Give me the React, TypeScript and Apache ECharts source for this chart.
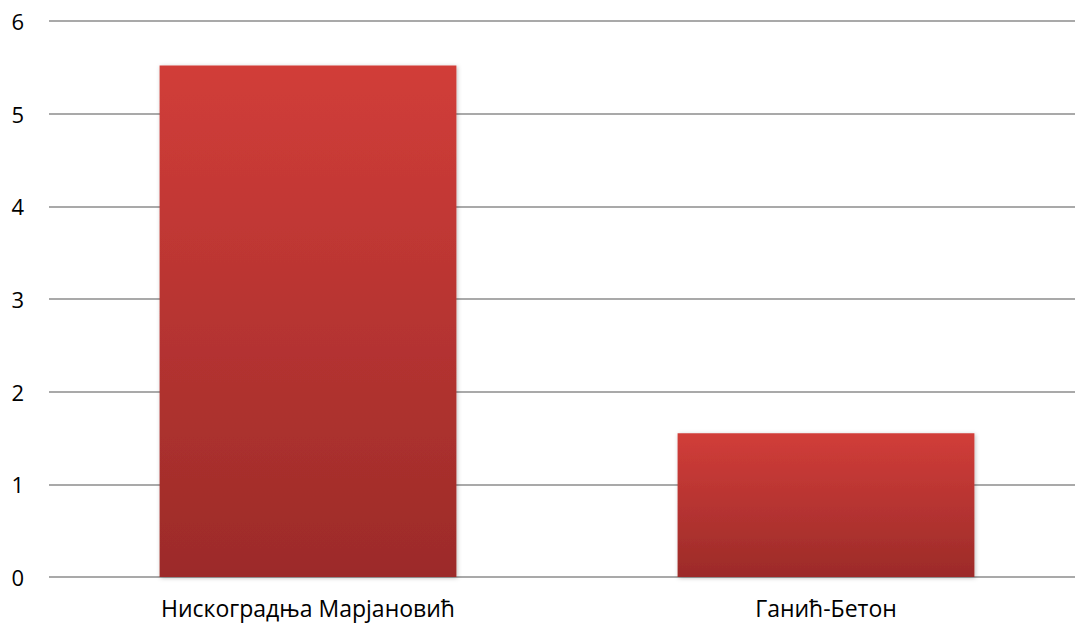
import React, { useEffect, useRef } from "react";
import * as echarts from "echarts";

const categories = ["Нискоградња Марјановић", "Ганић-Бетон"];
const values = [5.52, 1.55];
const yTicks = [0, 1, 2, 3, 4, 5, 6];

export default function App() {
  const ref = useRef<HTMLDivElement>(null);
  useEffect(() => {
    const chart = echarts.init(ref.current!, null, { renderer: "svg" });
    chart.setOption({
      animation: false,
      backgroundColor: "#ffffff",
      grid: {
        left: 49,
        width: 1036,
        top: 21,
        height: 556,
        containLabel: false,
        outerBoundsMode: "none",
      },
      xAxis: {
        type: "category",
        data: categories,
        axisLine: { show: false },
        axisTick: { show: false },
        axisLabel: {
          color: "#000",
          fontFamily: "Open Sans",
          fontSize: 23,
          margin: 19,
        },
      },
      yAxis: {
        type: "value",
        min: yTicks[0],
        max: yTicks[yTicks.length - 1],
        interval: 1,
        axisLine: { show: false },
        axisTick: { show: false },
        axisLabel: {
          color: "#000",
          fontFamily: "Open Sans",
          fontSize: 22,
          margin: 25,
        },
        splitLine: { lineStyle: { color: "#8c8c8c", width: 1.5 } },
      },
      series: [
        {
          type: "bar",
          data: values,
          barWidth: "57.3%",
          itemStyle: {
            color: new echarts.graphic.LinearGradient(0, 0, 0, 1, [
              { offset: 0, color: "#d13d39" },
              { offset: 1, color: "#9c2b29" },
            ]),
            shadowColor: "rgba(0,0,0,0.25)",
            shadowBlur: 4,
            shadowOffsetX: 1,
            shadowOffsetY: 1,
          },
        },
      ],
    });
    return () => chart.dispose();
  }, []);
  return (
    <div
      ref={ref}
      style={{ position: "fixed", left: 0, top: 0, width: 1075, height: 623, overflow: "hidden" }}
    />
  );
}
